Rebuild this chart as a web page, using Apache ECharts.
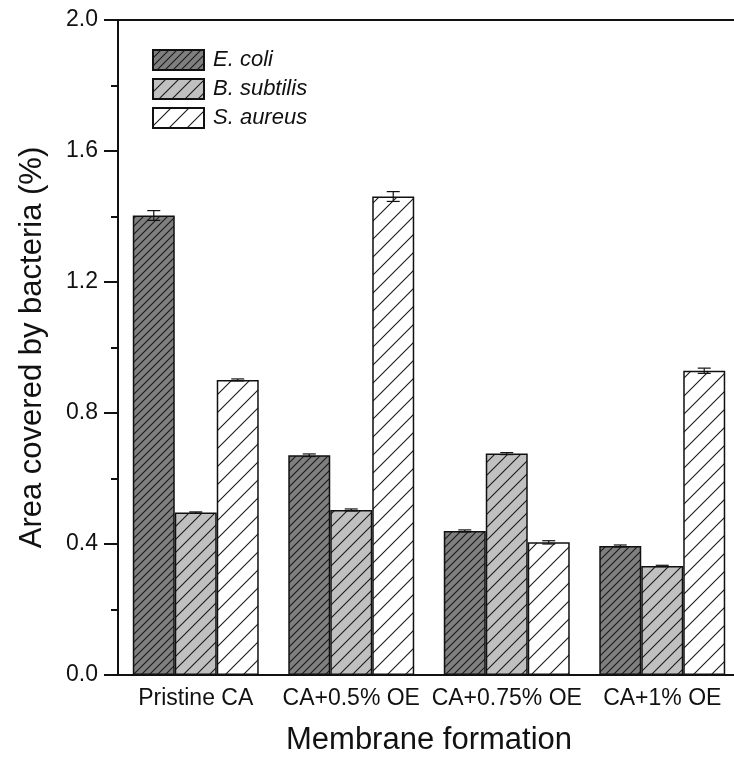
<!DOCTYPE html>
<html>
<head>
<meta charset="utf-8">
<script src="https://cdn.jsdelivr.net/npm/echarts@6/dist/echarts.min.js"></script>
<style>
html,body{margin:0;padding:0;background:#fff;width:734px;height:761px;overflow:hidden;}
#wrap{width:734px;height:761px;overflow:hidden;position:relative;}
#chart{width:740px;height:761px;position:absolute;left:0;top:0;}
</style>
</head>
<body>
<div id="wrap"><div id="chart"></div></div>
<script>
const categories = ['Pristine CA', 'CA+0.5% OE', 'CA+0.75% OE', 'CA+1% OE'];
const seriesNames = ['E. coli', 'B. subtilis', 'S. aureus'];
const ecoli = [1.403, 0.671, 0.440, 0.394];
const bsubtilis = [0.496, 0.504, 0.676, 0.333];
const saureus = [0.901, 1.461, 0.405, 0.929];
const ecoliErr = [0.015, 0.004, 0.003, 0.003];
const bsubtilisErr = [0.002, 0.003, 0.003, 0.002];
const saureusErr = [0.003, 0.015, 0.005, 0.008];
const yTicks = [0.0, 0.4, 0.8, 1.2, 1.6, 2.0];

const CAT_GAP = 0.19;

function makePattern(bg, step) {
  const c = document.createElement('canvas');
  c.width = step; c.height = step;
  const ctx = c.getContext('2d');
  ctx.fillStyle = bg;
  ctx.fillRect(0, 0, step, step);
  ctx.strokeStyle = '#1a1a1a';
  ctx.lineWidth = 1.1;
  ctx.beginPath();
  ctx.moveTo(-1, step + 1); ctx.lineTo(step + 1, -1);
  ctx.moveTo(-2, 2); ctx.lineTo(2, -2);
  ctx.moveTo(step - 2, step + 2); ctx.lineTo(step + 2, step - 2);
  ctx.stroke();
  return { image: c, repeat: 'repeat' };
}

const fills = [makePattern('#7f7f7f', 8), makePattern('#c0c0c0', 13), makePattern('#ffffff', 18)];
const values = [ecoli, bsubtilis, saureus];
const errs = [ecoliErr, bsubtilisErr, saureusErr];

const barSeries = seriesNames.map((name, i) => ({
  name: name,
  type: 'bar',
  data: values[i],
  barGap: '0%',
  barCategoryGap: (CAT_GAP * 100) + '%',
  itemStyle: { color: fills[i], borderColor: '#111', borderWidth: 1.5 },
  z: 2
}));

const errData = [];
for (let s = 0; s < 3; s++) {
  for (let k = 0; k < categories.length; k++) {
    errData.push([k, values[s][k], errs[s][k], s]);
  }
}

const errSeries = {
  type: 'custom',
  name: 'err',
  z: 5,
  data: errData,
  renderItem: function (params, api) {
    const k = api.value(0), v = api.value(1), e = api.value(2), s = api.value(3);
    const catW = api.size([1, 0])[0];
    const barW = catW * (1 - CAT_GAP) / 3;
    const c = api.coord([k, v]);
    const x = c[0] + (s - 1) * barW;
    const yt = api.coord([k, v + e])[1];
    const yb = api.coord([k, v - e])[1];
    const hw = 6.5;
    const st = { stroke: '#111', lineWidth: 1.2 };
    return {
      type: 'group',
      children: [
        { type: 'line', shape: { x1: x, y1: yt, x2: x, y2: yb }, style: st },
        { type: 'line', shape: { x1: x - hw, y1: yt, x2: x + hw, y2: yt }, style: st },
        { type: 'line', shape: { x1: x - hw, y1: yb, x2: x + hw, y2: yb }, style: st }
      ]
    };
  }
};

const chart = echarts.init(document.getElementById('chart'));
chart.setOption({
  animation: false,
  backgroundColor: '#fff',
  textStyle: { fontFamily: '"Liberation Sans", Arial, sans-serif' },
  grid: { left: 118, right: 0, top: 20, bottom: 84, containLabel: false },
  legend: {
    data: seriesNames,
    orient: 'vertical',
    left: 152,
    top: 49,
    padding: 0,
    itemWidth: 51,
    itemHeight: 20,
    itemGap: 7,
    icon: 'rect',
    textStyle: { fontSize: 22, fontStyle: 'italic', color: '#111', padding: [0, 0, 0, 4] }
  },
  xAxis: [{
    type: 'category',
    data: categories,
    position: 'bottom',
    name: 'Membrane formation',
    nameLocation: 'middle',
    nameGap: 50,
    nameTextStyle: { fontSize: 31, color: '#111' },
    axisLine: { lineStyle: { color: '#111', width: 2 } },
    axisTick: { show: false },
    axisLabel: { fontSize: 23, color: '#111', margin: 12, interval: 0, hideOverlap: false },
    splitLine: { show: false }
  }, {
    type: 'category',
    data: categories,
    position: 'top',
    axisLine: { lineStyle: { color: '#111', width: 2 } },
    axisTick: { show: false },
    axisLabel: { show: false },
    splitLine: { show: false }
  }],
  yAxis: {
    type: 'value',
    min: yTicks[0],
    max: yTicks[yTicks.length - 1],
    interval: 0.4,
    name: 'Area covered by bacteria (%)',
    nameLocation: 'middle',
    nameGap: 70,
    nameTextStyle: { fontSize: 31, color: '#111' },
    axisLine: { show: true, lineStyle: { color: '#111', width: 2 } },
    axisTick: { show: true, inside: false, length: 14, lineStyle: { color: '#111', width: 2 } },
    minorTick: { show: true, splitNumber: 2, length: 7, lineStyle: { color: '#111', width: 2 } },
    axisLabel: { fontSize: 23, color: '#111', margin: 20, formatter: v => v.toFixed(1) },
    splitLine: { show: false }
  },
  series: barSeries.concat([errSeries])
});
</script>
</body>
</html>
